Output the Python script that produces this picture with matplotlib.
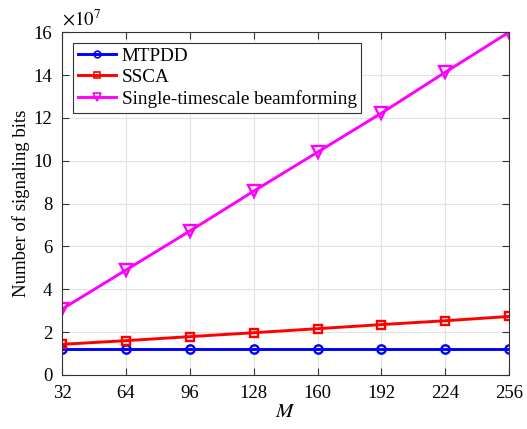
import matplotlib
matplotlib.use("Agg")
import matplotlib.pyplot as plt

plt.rcParams['font.family'] = ['Liberation Serif', 'DejaVu Serif']
plt.rcParams['mathtext.fontset'] = 'stix'

# values in units of 1e7 bits
M = [32, 64, 96, 128, 160, 192, 224, 256]
mtpdd = [1.23, 1.23, 1.23, 1.23, 1.23, 1.23, 1.23, 1.23]
ssca = [1.43, 1.60, 1.79, 1.97, 2.16, 2.35, 2.53, 2.73]
single = [3.08, 4.90, 6.72, 8.58, 10.40, 12.22, 14.13, 16.0]
yticks = [0, 2, 4, 6, 8, 10, 12, 14, 16]

fig = plt.figure(figsize=(5.27, 4.29), dpi=100)
ax = fig.add_axes([0.118, 0.126, 0.848, 0.799])

ax.plot(M, mtpdd, color='#0000ff', lw=2.1, marker='o', ms=6, mfc='none', mew=1.7, label='MTPDD')
ax.plot(M, ssca, color='#ff0000', lw=2.1, marker='s', ms=6, mfc='none', mew=1.7, label='SSCA')
ax.plot(M, single, color='#ff00ff', lw=2.1, marker='v', ms=8, mfc='none', mew=1.7, label='Single-timescale beamforming')

ax.set_xlim(32, 256)
ax.set_ylim(0, 16)
ax.set_xticks(M)
ax.set_yticks(yticks)
ax.text(0.0, 1.008, r'$\times 10^{7}$', transform=ax.transAxes, ha='left', va='bottom', fontsize=13.5)

ax.grid(True, color='#e3e3e3', lw=0.8)
ax.set_axisbelow(True)
ax.tick_params(direction='in', top=True, right=True, labelsize=13.5, length=5, color='#333333', pad=7)
for s in ax.spines.values():
    s.set_color('#333333')
    s.set_linewidth(0.8)

ax.set_xlabel('$M$', fontsize=15, labelpad=1)
ax.set_ylabel('Number of signaling bits', fontsize=13.5, labelpad=3)

leg = ax.legend(loc='upper left', fontsize=13.8, fancybox=False, edgecolor='#333333',
                framealpha=1, handlelength=2.0, borderpad=0.25, labelspacing=0.2,
                handletextpad=0.3, borderaxespad=0.55, markerscale=0.8)
leg.get_frame().set_linewidth(0.8)
for h in leg.get_lines():
    h.set_markeredgewidth(1.2)

fig.savefig('out.png', dpi=100)
